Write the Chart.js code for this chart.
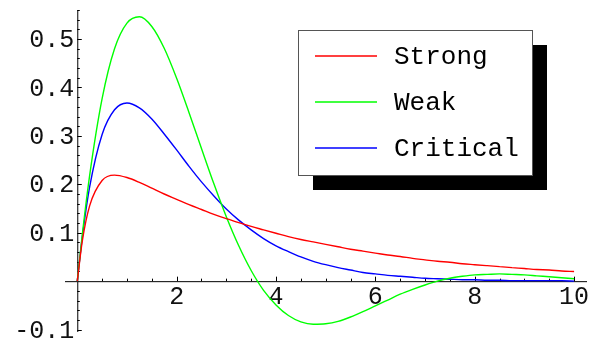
<!DOCTYPE html>
<html>
<head>
<meta charset="utf-8">
<script src="https://cdn.jsdelivr.net/npm/chart.js@4"></script>
<style>
  html, body { margin: 0; padding: 0; background: #fff; }
  #wrap { width: 590px; height: 343px; }
</style>
</head>
<body>
<div id="wrap"><canvas id="plot"></canvas></div>
<script>
// values
const tValues = [0, 0.1, 0.25, 0.5, 0.75, 1, 1.25, 1.5, 1.75, 2, 2.25, 2.5, 2.75, 3, 3.25, 3.5, 3.75, 4, 4.25, 4.5, 4.75, 5,
  5.25, 5.5, 5.75, 6, 6.25, 6.5, 6.75, 7, 7.25, 7.5, 7.75, 8, 8.25, 8.5, 8.75, 9, 9.25, 9.5, 9.75, 10];
const strong = [0, 0.082, 0.156, 0.208, 0.219, 0.214, 0.204, 0.192, 0.180, 0.169, 0.158, 0.148, 0.138, 0.129, 0.121, 0.113,
  0.106, 0.099, 0.092, 0.086, 0.081, 0.076, 0.071, 0.066, 0.062, 0.058, 0.054, 0.051, 0.047, 0.044, 0.041, 0.039,
  0.036, 0.034, 0.032, 0.030, 0.028, 0.026, 0.024, 0.023, 0.021, 0.020];
const weak = [0, 0.095, 0.219, 0.377, 0.480, 0.533, 0.546, 0.526, 0.481, 0.419, 0.348, 0.274, 0.201, 0.133, 0.073, 0.022,
  -0.019, -0.049, -0.071, -0.084, -0.089, -0.088, -0.083, -0.074, -0.063, -0.051, -0.039, -0.027, -0.017, -0.008, 0.000,
  0.006, 0.010, 0.013, 0.014, 0.015, 0.014, 0.013, 0.011, 0.009, 0.007, 0.005];
const critical = [0, 0.090, 0.195, 0.303, 0.354, 0.368, 0.358, 0.335, 0.304, 0.271, 0.237, 0.205, 0.176, 0.149, 0.126, 0.106,
  0.088, 0.073, 0.061, 0.050, 0.041, 0.034, 0.028, 0.023, 0.018, 0.015, 0.012, 0.010, 0.008, 0.006, 0.005, 0.004,
  0.003, 0.003, 0.002, 0.002, 0.001, 0.001, 0.001, 0.001, 0.001, 0.000];
const seriesNames = ["Strong", "Weak", "Critical"];
const seriesColors = ["#ff0000", "#00ff00", "#0000ff"];
const xMajor = [2, 4, 6, 8, 10];
const yMajor = [-0.1, 0.1, 0.2, 0.3, 0.4, 0.5];

const font = '25px "Liberation Mono", "Courier New", monospace';
const legendFont = '26px "Liberation Mono", "Courier New", monospace';

function pts(ys) {
  return tValues.map((t, i) => ({ x: t, y: ys[i] }));
}

// mathematica style axes crossing at the origin
const axesPlugin = {
  id: 'axes',
  beforeDatasetsDraw(chart) {
    const ctx = chart.ctx;
    const xs = chart.scales.x, ys = chart.scales.y;
    const x0 = xs.getPixelForValue(0), y0 = ys.getPixelForValue(0);
    ctx.save();
    ctx.strokeStyle = '#000';
    ctx.lineWidth = 1;
    ctx.beginPath();
    ctx.moveTo(xs.left, y0 + 0.5); ctx.lineTo(xs.right, y0 + 0.5);
    ctx.moveTo(x0 + 0.5, ys.top); ctx.lineTo(x0 + 0.5, ys.bottom);
    // x ticks (up)
    for (let v = 0.5; v <= 10.01; v += 0.5) {
      const px = Math.round(xs.getPixelForValue(v)) + 0.5;
      const len = Math.abs(v % 2) < 0.01 ? 4.5 : 2.5;
      ctx.moveTo(px, y0); ctx.lineTo(px, y0 - len);
    }
    // y ticks (right)
    for (let k = -5; k <= 28; k++) {
      if (k === 0) continue;
      const v = k * 0.02;
      const py = Math.round(ys.getPixelForValue(v)) + 0.5;
      const len = k % 5 === 0 ? 4.5 : 2.5;
      ctx.moveTo(x0, py); ctx.lineTo(x0 + len, py);
    }
    ctx.stroke();

    ctx.fillStyle = '#111';
    ctx.font = font;
    ctx.textAlign = 'center';
    ctx.textBaseline = 'middle';
    xMajor.forEach(v => ctx.fillText(String(v), xs.getPixelForValue(v), y0 + 16));
    ctx.textAlign = 'right';
    yMajor.forEach(v => ctx.fillText(v.toFixed(1), x0 - 3, ys.getPixelForValue(v) + 1.5));
    ctx.restore();
  },
  afterDatasetsDraw(chart) {
    // legend box with drop shadow
    const ctx = chart.ctx;
    const bx = 298, by = 30, bw = 234, bh = 145, off = 15;
    ctx.save();
    ctx.fillStyle = '#000';
    ctx.fillRect(bx + off, by + off, bw, bh);
    ctx.fillStyle = '#fff';
    ctx.fillRect(bx, by, bw, bh);
    ctx.strokeStyle = '#555';
    ctx.lineWidth = 1;
    ctx.strokeRect(bx + 0.5, by + 0.5, bw, bh);
    ctx.font = legendFont;
    ctx.textAlign = 'left';
    ctx.textBaseline = 'middle';
    chart.data.datasets.forEach((ds, i) => {
      const ly = by + 26 + i * 46;
      ctx.strokeStyle = ds.borderColor;
      ctx.lineWidth = 1.4;
      ctx.beginPath();
      ctx.moveTo(315, ly); ctx.lineTo(377, ly);
      ctx.stroke();
      ctx.fillStyle = '#000';
      ctx.fillText(ds.label, 394, ly + 1);
    });
    ctx.restore();
  }
};

new Chart(document.getElementById('plot'), {
  type: 'line',
  data: {
    datasets: seriesNames.map((name, i) => ({
      label: name,
      data: pts([strong, weak, critical][i]),
      borderColor: seriesColors[i],
      borderWidth: 1.4,
      pointRadius: 0,
      fill: false,
      cubicInterpolationMode: 'monotone'
    }))
  },
  options: {
    responsive: true,
    maintainAspectRatio: false,
    animation: false,
    layout: { padding: { left: 65, right: 3, top: 10, bottom: 11 } },
    plugins: { legend: { display: false }, tooltip: { enabled: false } },
    scales: {
      x: { type: 'linear', min: -0.247, max: 10.26, display: false },
      y: { type: 'linear', min: -0.105, max: 0.56, display: false }
    }
  },
  plugins: [axesPlugin]
});
</script>
</body>
</html>
